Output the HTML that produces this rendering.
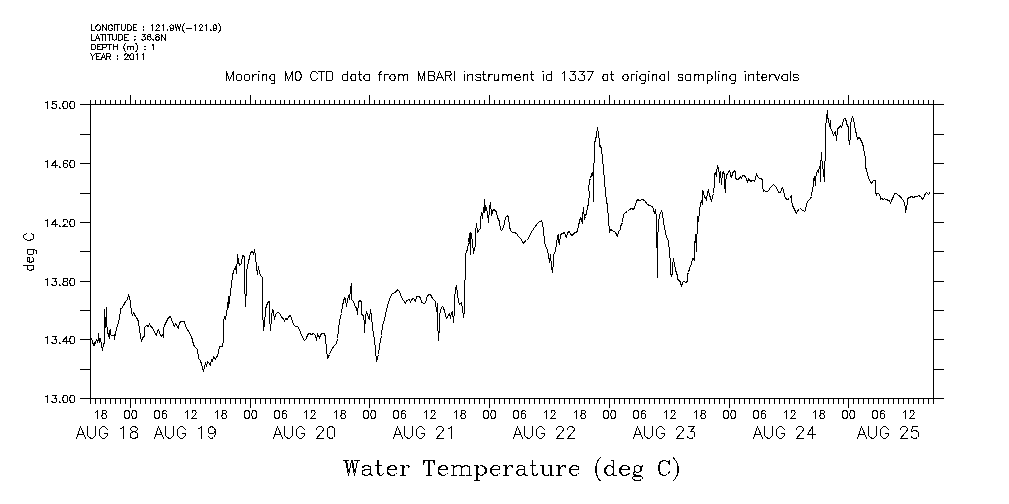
<!DOCTYPE html>
<html><head><meta charset="utf-8"><title>Water Temperature (deg C)</title>
<style>
html,body{margin:0;padding:0;background:#fff;font-family:"Liberation Sans",sans-serif;}
svg{display:block}
</style></head><body>
<svg width="1009" height="504" viewBox="0 0 1009 504" shape-rendering="crispEdges" role="img" aria-label="Water Temperature (deg C) time series plot">
<title>Water Temperature (deg C)</title>
<desc>Mooring M0 CTD data from MBARI instrument id 1337 at original sampling intervals. LONGITUDE : 121.9W(-121.9), LATITUDE : 36.8N, DEPTH (m) : 1, YEAR : 2011. Y axis deg C from 13.00 to 15.00; X axis AUG 18 to AUG 25.</desc>
<rect width="1009" height="504" fill="#fff"/>
<path fill="none" stroke="#000" stroke-width="1" stroke-linecap="butt" stroke-linejoin="miter" d="M90.5 104.5H933.5V398.5H90.5Z
M90.5 104.5L90.5 100
M90.5 398.5L90.5 404
M95.5 104.5L95.5 100
M95.5 398.5L95.5 404
M100.5 104.5L100.5 100
M100.5 398.5L100.5 404
M105.5 104.5L105.5 100
M105.5 398.5L105.5 404
M110.5 104.5L110.5 100
M110.5 398.5L110.5 404
M115.5 104.5L115.5 100
M115.5 398.5L115.5 404
M120.5 104.5L120.5 100
M120.5 398.5L120.5 404
M125.5 104.5L125.5 100
M125.5 398.5L125.5 404
M130.5 104.5L130.5 95
M130.5 398.5L130.5 408
M135.5 104.5L135.5 100
M135.5 398.5L135.5 404
M140.5 104.5L140.5 100
M140.5 398.5L140.5 404
M145.5 104.5L145.5 100
M145.5 398.5L145.5 404
M150.5 104.5L150.5 100
M150.5 398.5L150.5 404
M155.5 104.5L155.5 100
M155.5 398.5L155.5 404
M160.5 104.5L160.5 100
M160.5 398.5L160.5 404
M165.5 104.5L165.5 100
M165.5 398.5L165.5 404
M170.5 104.5L170.5 100
M170.5 398.5L170.5 404
M175.5 104.5L175.5 100
M175.5 398.5L175.5 404
M180.5 104.5L180.5 100
M180.5 398.5L180.5 404
M185.5 104.5L185.5 100
M185.5 398.5L185.5 404
M190.5 104.5L190.5 100
M190.5 398.5L190.5 404
M195.5 104.5L195.5 100
M195.5 398.5L195.5 404
M200.5 104.5L200.5 100
M200.5 398.5L200.5 404
M205.5 104.5L205.5 100
M205.5 398.5L205.5 404
M210.5 104.5L210.5 100
M210.5 398.5L210.5 404
M215.5 104.5L215.5 100
M215.5 398.5L215.5 404
M220.5 104.5L220.5 100
M220.5 398.5L220.5 404
M225.5 104.5L225.5 100
M225.5 398.5L225.5 404
M230.5 104.5L230.5 100
M230.5 398.5L230.5 404
M235.5 104.5L235.5 100
M235.5 398.5L235.5 404
M240.5 104.5L240.5 100
M240.5 398.5L240.5 404
M245.5 104.5L245.5 100
M245.5 398.5L245.5 404
M250.5 104.5L250.5 95
M250.5 398.5L250.5 408
M255.5 104.5L255.5 100
M255.5 398.5L255.5 404
M260.5 104.5L260.5 100
M260.5 398.5L260.5 404
M265.5 104.5L265.5 100
M265.5 398.5L265.5 404
M270.5 104.5L270.5 100
M270.5 398.5L270.5 404
M275.5 104.5L275.5 100
M275.5 398.5L275.5 404
M280.5 104.5L280.5 100
M280.5 398.5L280.5 404
M284.5 104.5L284.5 100
M284.5 398.5L284.5 404
M289.5 104.5L289.5 100
M289.5 398.5L289.5 404
M294.5 104.5L294.5 100
M294.5 398.5L294.5 404
M299.5 104.5L299.5 100
M299.5 398.5L299.5 404
M304.5 104.5L304.5 100
M304.5 398.5L304.5 404
M309.5 104.5L309.5 100
M309.5 398.5L309.5 404
M314.5 104.5L314.5 100
M314.5 398.5L314.5 404
M319.5 104.5L319.5 100
M319.5 398.5L319.5 404
M324.5 104.5L324.5 100
M324.5 398.5L324.5 404
M329.5 104.5L329.5 100
M329.5 398.5L329.5 404
M334.5 104.5L334.5 100
M334.5 398.5L334.5 404
M339.5 104.5L339.5 100
M339.5 398.5L339.5 404
M344.5 104.5L344.5 100
M344.5 398.5L344.5 404
M349.5 104.5L349.5 100
M349.5 398.5L349.5 404
M354.5 104.5L354.5 100
M354.5 398.5L354.5 404
M359.5 104.5L359.5 100
M359.5 398.5L359.5 404
M364.5 104.5L364.5 100
M364.5 398.5L364.5 404
M369.5 104.5L369.5 95
M369.5 398.5L369.5 408
M374.5 104.5L374.5 100
M374.5 398.5L374.5 404
M379.5 104.5L379.5 100
M379.5 398.5L379.5 404
M384.5 104.5L384.5 100
M384.5 398.5L384.5 404
M389.5 104.5L389.5 100
M389.5 398.5L389.5 404
M394.5 104.5L394.5 100
M394.5 398.5L394.5 404
M399.5 104.5L399.5 100
M399.5 398.5L399.5 404
M404.5 104.5L404.5 100
M404.5 398.5L404.5 404
M409.5 104.5L409.5 100
M409.5 398.5L409.5 404
M414.5 104.5L414.5 100
M414.5 398.5L414.5 404
M419.5 104.5L419.5 100
M419.5 398.5L419.5 404
M424.5 104.5L424.5 100
M424.5 398.5L424.5 404
M429.5 104.5L429.5 100
M429.5 398.5L429.5 404
M434.5 104.5L434.5 100
M434.5 398.5L434.5 404
M439.5 104.5L439.5 100
M439.5 398.5L439.5 404
M444.5 104.5L444.5 100
M444.5 398.5L444.5 404
M449.5 104.5L449.5 100
M449.5 398.5L449.5 404
M454.5 104.5L454.5 100
M454.5 398.5L454.5 404
M459.5 104.5L459.5 100
M459.5 398.5L459.5 404
M464.5 104.5L464.5 100
M464.5 398.5L464.5 404
M469.5 104.5L469.5 100
M469.5 398.5L469.5 404
M474.5 104.5L474.5 100
M474.5 398.5L474.5 404
M479.5 104.5L479.5 100
M479.5 398.5L479.5 404
M484.5 104.5L484.5 100
M484.5 398.5L484.5 404
M489.5 104.5L489.5 95
M489.5 398.5L489.5 408
M494.5 104.5L494.5 100
M494.5 398.5L494.5 404
M499.5 104.5L499.5 100
M499.5 398.5L499.5 404
M504.5 104.5L504.5 100
M504.5 398.5L504.5 404
M509.5 104.5L509.5 100
M509.5 398.5L509.5 404
M514.5 104.5L514.5 100
M514.5 398.5L514.5 404
M519.5 104.5L519.5 100
M519.5 398.5L519.5 404
M524.5 104.5L524.5 100
M524.5 398.5L524.5 404
M529.5 104.5L529.5 100
M529.5 398.5L529.5 404
M534.5 104.5L534.5 100
M534.5 398.5L534.5 404
M539.5 104.5L539.5 100
M539.5 398.5L539.5 404
M544.5 104.5L544.5 100
M544.5 398.5L544.5 404
M549.5 104.5L549.5 100
M549.5 398.5L549.5 404
M554.5 104.5L554.5 100
M554.5 398.5L554.5 404
M559.5 104.5L559.5 100
M559.5 398.5L559.5 404
M564.5 104.5L564.5 100
M564.5 398.5L564.5 404
M569.5 104.5L569.5 100
M569.5 398.5L569.5 404
M574.5 104.5L574.5 100
M574.5 398.5L574.5 404
M579.5 104.5L579.5 100
M579.5 398.5L579.5 404
M584.5 104.5L584.5 100
M584.5 398.5L584.5 404
M589.5 104.5L589.5 100
M589.5 398.5L589.5 404
M594.5 104.5L594.5 100
M594.5 398.5L594.5 404
M599.5 104.5L599.5 100
M599.5 398.5L599.5 404
M604.5 104.5L604.5 100
M604.5 398.5L604.5 404
M609.5 104.5L609.5 95
M609.5 398.5L609.5 408
M614.5 104.5L614.5 100
M614.5 398.5L614.5 404
M619.5 104.5L619.5 100
M619.5 398.5L619.5 404
M624.5 104.5L624.5 100
M624.5 398.5L624.5 404
M629.5 104.5L629.5 100
M629.5 398.5L629.5 404
M634.5 104.5L634.5 100
M634.5 398.5L634.5 404
M639.5 104.5L639.5 100
M639.5 398.5L639.5 404
M644.5 104.5L644.5 100
M644.5 398.5L644.5 404
M649.5 104.5L649.5 100
M649.5 398.5L649.5 404
M654.5 104.5L654.5 100
M654.5 398.5L654.5 404
M659.5 104.5L659.5 100
M659.5 398.5L659.5 404
M664.5 104.5L664.5 100
M664.5 398.5L664.5 404
M669.5 104.5L669.5 100
M669.5 398.5L669.5 404
M674.5 104.5L674.5 100
M674.5 398.5L674.5 404
M679.5 104.5L679.5 100
M679.5 398.5L679.5 404
M684.5 104.5L684.5 100
M684.5 398.5L684.5 404
M689.5 104.5L689.5 100
M689.5 398.5L689.5 404
M694.5 104.5L694.5 100
M694.5 398.5L694.5 404
M699.5 104.5L699.5 100
M699.5 398.5L699.5 404
M704.5 104.5L704.5 100
M704.5 398.5L704.5 404
M709.5 104.5L709.5 100
M709.5 398.5L709.5 404
M714.5 104.5L714.5 100
M714.5 398.5L714.5 404
M719.5 104.5L719.5 100
M719.5 398.5L719.5 404
M724.5 104.5L724.5 100
M724.5 398.5L724.5 404
M729.5 104.5L729.5 95
M729.5 398.5L729.5 408
M734.5 104.5L734.5 100
M734.5 398.5L734.5 404
M739.5 104.5L739.5 100
M739.5 398.5L739.5 404
M744.5 104.5L744.5 100
M744.5 398.5L744.5 404
M749.5 104.5L749.5 100
M749.5 398.5L749.5 404
M754.5 104.5L754.5 100
M754.5 398.5L754.5 404
M759.5 104.5L759.5 100
M759.5 398.5L759.5 404
M764.5 104.5L764.5 100
M764.5 398.5L764.5 404
M769.5 104.5L769.5 100
M769.5 398.5L769.5 404
M774.5 104.5L774.5 100
M774.5 398.5L774.5 404
M779.5 104.5L779.5 100
M779.5 398.5L779.5 404
M784.5 104.5L784.5 100
M784.5 398.5L784.5 404
M789.5 104.5L789.5 100
M789.5 398.5L789.5 404
M794.5 104.5L794.5 100
M794.5 398.5L794.5 404
M799.5 104.5L799.5 100
M799.5 398.5L799.5 404
M804.5 104.5L804.5 100
M804.5 398.5L804.5 404
M809.5 104.5L809.5 100
M809.5 398.5L809.5 404
M813.5 104.5L813.5 100
M813.5 398.5L813.5 404
M818.5 104.5L818.5 100
M818.5 398.5L818.5 404
M823.5 104.5L823.5 100
M823.5 398.5L823.5 404
M828.5 104.5L828.5 100
M828.5 398.5L828.5 404
M833.5 104.5L833.5 100
M833.5 398.5L833.5 404
M838.5 104.5L838.5 100
M838.5 398.5L838.5 404
M843.5 104.5L843.5 100
M843.5 398.5L843.5 404
M848.5 104.5L848.5 95
M848.5 398.5L848.5 408
M853.5 104.5L853.5 100
M853.5 398.5L853.5 404
M858.5 104.5L858.5 100
M858.5 398.5L858.5 404
M863.5 104.5L863.5 100
M863.5 398.5L863.5 404
M868.5 104.5L868.5 100
M868.5 398.5L868.5 404
M873.5 104.5L873.5 100
M873.5 398.5L873.5 404
M878.5 104.5L878.5 100
M878.5 398.5L878.5 404
M883.5 104.5L883.5 100
M883.5 398.5L883.5 404
M888.5 104.5L888.5 100
M888.5 398.5L888.5 404
M893.5 104.5L893.5 100
M893.5 398.5L893.5 404
M898.5 104.5L898.5 100
M898.5 398.5L898.5 404
M903.5 104.5L903.5 100
M903.5 398.5L903.5 404
M908.5 104.5L908.5 100
M908.5 398.5L908.5 404
M913.5 104.5L913.5 100
M913.5 398.5L913.5 404
M918.5 104.5L918.5 100
M918.5 398.5L918.5 404
M923.5 104.5L923.5 100
M923.5 398.5L923.5 404
M928.5 104.5L928.5 100
M928.5 398.5L928.5 404
M933.5 104.5L933.5 100
M933.5 398.5L933.5 404
M90.5 104.5L80 104.5
M933.5 104.5L944 104.5
M90.5 134.5L80 134.5
M933.5 134.5L944 134.5
M90.5 163.5L80 163.5
M933.5 163.5L944 163.5
M90.5 193.5L80 193.5
M933.5 193.5L944 193.5
M90.5 222.5L80 222.5
M933.5 222.5L944 222.5
M90.5 251.5L80 251.5
M933.5 251.5L944 251.5
M90.5 281.5L80 281.5
M933.5 281.5L944 281.5
M90.5 310.5L80 310.5
M933.5 310.5L944 310.5
M90.5 339.5L80 339.5
M933.5 339.5L944 339.5
M90.5 369.5L80 369.5
M933.5 369.5L944 369.5
M90.5 398.5L80 398.5
M933.5 398.5L944 398.5"/>
<path fill="none" stroke="#000" stroke-width="1" stroke-linecap="round" stroke-linejoin="round" d="M45.5 102.5 46.5 102.5 47.5 101.5 47.5 108.5M51.5 107.5 52.5 107.5 52.5 108.5 53.5 108.5 54.5 108.5 55.5 108.5 56.5 107.5 56.5 106.5 56.5 105.5 56.5 104.5 55.5 104.5 54.5 103.5 53.5 103.5 52.5 104.5 52.5 101.5 56.5 101.5M59.5 108.5 59.5 107.5 60.5 108.5 59.5 108.5M62.5 104.5 62.5 105.5 63.5 107.5 63.5 108.5 64.5 108.5 65.5 108.5 66.5 108.5 67.5 107.5 67.5 105.5 67.5 104.5 67.5 102.5 66.5 101.5 65.5 101.5 64.5 101.5 63.5 101.5 63.5 102.5 62.5 104.5M69.5 104.5 69.5 105.5 70.5 107.5 70.5 108.5 72.5 108.5 73.5 108.5 74.5 107.5 74.5 105.5 74.5 104.5 74.5 102.5 73.5 101.5 72.5 101.5 70.5 101.5 70.5 102.5 69.5 104.5
M45.5 161.5 46.5 161.5 47.5 160.5 47.5 167.5M55.5 167.5 55.5 160.5 51.5 165.5 57.5 165.5M59.5 167.5 59.5 166.5 60.5 167.5 59.5 167.5M63.5 165.5 63.5 163.5 63.5 161.5 64.5 160.5 65.5 160.5 67.5 160.5 67.5 161.5M63.5 165.5 63.5 164.5 64.5 163.5 65.5 163.5 66.5 163.5 67.5 164.5 67.5 165.5 67.5 166.5 66.5 167.5 65.5 167.5 64.5 167.5 63.5 166.5 63.5 165.5M69.5 163.5 69.5 164.5 70.5 166.5 70.5 167.5 72.5 167.5 73.5 167.5 74.5 166.5 74.5 164.5 74.5 163.5 74.5 161.5 73.5 160.5 72.5 160.5 70.5 160.5 70.5 161.5 69.5 163.5
M45.5 220.5 46.5 220.5 47.5 219.5 47.5 226.5M55.5 226.5 55.5 219.5 51.5 224.5 57.5 224.5M59.5 226.5 59.5 225.5 60.5 226.5 59.5 226.5M63.5 221.5 63.5 220.5 63.5 219.5 64.5 219.5 65.5 219.5 66.5 219.5 67.5 220.5 67.5 221.5 67.5 222.5 66.5 223.5 62.5 226.5 67.5 226.5M69.5 222.5 69.5 223.5 70.5 225.5 70.5 226.5 72.5 226.5 73.5 226.5 74.5 225.5 74.5 223.5 74.5 222.5 74.5 220.5 73.5 219.5 72.5 219.5 70.5 219.5 70.5 220.5 69.5 222.5
M45.5 279.5 46.5 279.5 47.5 278.5 47.5 285.5M51.5 284.5 52.5 284.5 52.5 285.5 53.5 285.5 54.5 285.5 55.5 285.5 56.5 284.5 56.5 283.5 56.5 282.5 56.5 281.5 55.5 281.5 54.5 281.5 56.5 278.5 52.5 278.5M59.5 285.5 59.5 284.5 60.5 285.5 59.5 285.5M62.5 283.5 62.5 284.5 63.5 284.5 63.5 285.5 64.5 285.5 65.5 285.5 67.5 285.5 67.5 284.5 67.5 283.5 67.5 282.5 66.5 281.5 65.5 281.5 64.5 281.5 63.5 280.5 63.5 279.5 63.5 278.5 64.5 278.5 65.5 278.5 67.5 278.5 67.5 279.5 67.5 280.5 66.5 281.5 64.5 281.5 63.5 281.5 63.5 282.5 62.5 283.5M69.5 281.5 69.5 282.5 70.5 284.5 70.5 285.5 72.5 285.5 73.5 285.5 74.5 284.5 74.5 282.5 74.5 281.5 74.5 279.5 73.5 278.5 72.5 278.5 70.5 278.5 70.5 279.5 69.5 281.5
M45.5 337.5 46.5 337.5 47.5 336.5 47.5 343.5M51.5 342.5 52.5 342.5 52.5 343.5 53.5 343.5 54.5 343.5 55.5 343.5 56.5 342.5 56.5 341.5 56.5 340.5 56.5 339.5 55.5 339.5 54.5 339.5 56.5 336.5 52.5 336.5M59.5 343.5 59.5 342.5 60.5 343.5 59.5 343.5M66.5 343.5 66.5 336.5 62.5 341.5 68.5 341.5M69.5 339.5 69.5 340.5 70.5 342.5 70.5 343.5 72.5 343.5 73.5 343.5 74.5 342.5 74.5 340.5 74.5 339.5 74.5 337.5 73.5 336.5 72.5 336.5 70.5 336.5 70.5 337.5 69.5 339.5
M45.5 396.5 46.5 396.5 47.5 395.5 47.5 402.5M51.5 401.5 52.5 401.5 52.5 402.5 53.5 402.5 54.5 402.5 55.5 402.5 56.5 401.5 56.5 400.5 56.5 399.5 56.5 398.5 55.5 398.5 54.5 398.5 56.5 395.5 52.5 395.5M59.5 402.5 59.5 401.5 60.5 402.5 59.5 402.5M62.5 398.5 62.5 399.5 63.5 401.5 63.5 402.5 64.5 402.5 65.5 402.5 66.5 402.5 67.5 401.5 67.5 399.5 67.5 398.5 67.5 396.5 66.5 395.5 65.5 395.5 64.5 395.5 63.5 395.5 63.5 396.5 62.5 398.5M69.5 398.5 69.5 399.5 70.5 401.5 70.5 402.5 72.5 402.5 73.5 402.5 74.5 401.5 74.5 399.5 74.5 398.5 74.5 396.5 73.5 395.5 72.5 395.5 70.5 395.5 70.5 396.5 69.5 398.5
M95.5 412.5 96.5 411.5 97.5 410.5 97.5 418.5M101.5 415.5 101.5 416.5 102.5 417.5 102.5 418.5 103.5 418.5 104.5 418.5 105.5 418.5 106.5 417.5 106.5 416.5 106.5 415.5 105.5 414.5 104.5 413.5 103.5 413.5 102.5 413.5 102.5 412.5 102.5 411.5 102.5 410.5 103.5 410.5 104.5 410.5 105.5 410.5 106.5 411.5 106.5 412.5 105.5 413.5 103.5 413.5 102.5 414.5 102.5 415.5 101.5 415.5
M124.5 413.5 124.5 415.5 124.5 416.5 125.5 418.5 126.5 418.5 127.5 418.5 128.5 418.5 129.5 416.5 129.5 415.5 129.5 413.5 129.5 412.5 128.5 410.5 127.5 410.5 126.5 410.5 125.5 410.5 124.5 412.5 124.5 413.5M131.5 413.5 131.5 415.5 132.5 416.5 132.5 418.5 133.5 418.5 134.5 418.5 135.5 418.5 136.5 416.5 136.5 415.5 136.5 413.5 136.5 412.5 135.5 410.5 134.5 410.5 133.5 410.5 132.5 410.5 132.5 412.5 131.5 413.5
M154.5 413.5 154.5 415.5 154.5 416.5 155.5 418.5 156.5 418.5 157.5 418.5 158.5 418.5 159.5 416.5 159.5 415.5 159.5 413.5 159.5 412.5 158.5 410.5 157.5 410.5 156.5 410.5 155.5 410.5 154.5 412.5 154.5 413.5M162.5 415.5 162.5 413.5 162.5 412.5 163.5 410.5 164.5 410.5 165.5 410.5 166.5 411.5M162.5 415.5 162.5 414.5 163.5 413.5 164.5 413.5 165.5 413.5 166.5 414.5 166.5 415.5 166.5 416.5 166.5 417.5 165.5 418.5 164.5 418.5 163.5 418.5 162.5 417.5 162.5 415.5
M185.5 412.5 186.5 411.5 187.5 410.5 187.5 418.5M192.5 412.5 192.5 411.5 192.5 410.5 193.5 410.5 194.5 410.5 195.5 410.5 195.5 411.5 196.5 412.5 195.5 413.5 195.5 414.5 191.5 418.5 196.5 418.5
M215.5 412.5 216.5 411.5 217.5 410.5 217.5 418.5M221.5 415.5 221.5 416.5 222.5 417.5 222.5 418.5 223.5 418.5 224.5 418.5 225.5 418.5 226.5 417.5 226.5 416.5 226.5 415.5 225.5 414.5 224.5 413.5 223.5 413.5 222.5 413.5 222.5 412.5 222.5 411.5 222.5 410.5 223.5 410.5 224.5 410.5 225.5 410.5 226.5 411.5 226.5 412.5 225.5 413.5 223.5 413.5 222.5 414.5 222.5 415.5 221.5 415.5
M244.5 413.5 244.5 415.5 244.5 416.5 245.5 418.5 246.5 418.5 247.5 418.5 248.5 418.5 249.5 416.5 249.5 415.5 249.5 413.5 249.5 412.5 248.5 410.5 247.5 410.5 246.5 410.5 245.5 410.5 244.5 412.5 244.5 413.5M251.5 413.5 251.5 415.5 252.5 416.5 252.5 418.5 253.5 418.5 254.5 418.5 255.5 418.5 256.5 416.5 256.5 415.5 256.5 413.5 256.5 412.5 255.5 410.5 254.5 410.5 253.5 410.5 252.5 410.5 252.5 412.5 251.5 413.5
M274.5 413.5 274.5 415.5 274.5 416.5 275.5 418.5 276.5 418.5 277.5 418.5 278.5 418.5 279.5 416.5 279.5 415.5 279.5 413.5 279.5 412.5 278.5 410.5 277.5 410.5 276.5 410.5 275.5 410.5 274.5 412.5 274.5 413.5M282.5 415.5 282.5 413.5 282.5 412.5 283.5 410.5 284.5 410.5 285.5 410.5 286.5 411.5M282.5 415.5 282.5 414.5 283.5 413.5 284.5 413.5 285.5 413.5 286.5 414.5 286.5 415.5 286.5 416.5 286.5 417.5 285.5 418.5 284.5 418.5 283.5 418.5 282.5 417.5 282.5 415.5
M304.5 412.5 305.5 411.5 306.5 410.5 306.5 418.5M311.5 412.5 311.5 411.5 311.5 410.5 312.5 410.5 313.5 410.5 314.5 410.5 314.5 411.5 315.5 412.5 314.5 413.5 314.5 414.5 310.5 418.5 315.5 418.5
M334.5 412.5 335.5 411.5 336.5 410.5 336.5 418.5M340.5 415.5 340.5 416.5 341.5 417.5 341.5 418.5 342.5 418.5 343.5 418.5 344.5 418.5 345.5 417.5 345.5 416.5 345.5 415.5 344.5 414.5 343.5 413.5 342.5 413.5 341.5 413.5 341.5 412.5 341.5 411.5 341.5 410.5 342.5 410.5 343.5 410.5 344.5 410.5 345.5 411.5 345.5 412.5 344.5 413.5 342.5 413.5 341.5 414.5 341.5 415.5 340.5 415.5
M363.5 413.5 363.5 415.5 363.5 416.5 364.5 418.5 365.5 418.5 366.5 418.5 367.5 418.5 368.5 416.5 368.5 415.5 368.5 413.5 368.5 412.5 367.5 410.5 366.5 410.5 365.5 410.5 364.5 410.5 363.5 412.5 363.5 413.5M370.5 413.5 370.5 415.5 371.5 416.5 371.5 418.5 372.5 418.5 373.5 418.5 374.5 418.5 375.5 416.5 375.5 415.5 375.5 413.5 375.5 412.5 374.5 410.5 373.5 410.5 372.5 410.5 371.5 410.5 371.5 412.5 370.5 413.5
M393.5 413.5 393.5 415.5 393.5 416.5 394.5 418.5 395.5 418.5 396.5 418.5 397.5 418.5 398.5 416.5 398.5 415.5 398.5 413.5 398.5 412.5 397.5 410.5 396.5 410.5 395.5 410.5 394.5 410.5 393.5 412.5 393.5 413.5M401.5 415.5 401.5 413.5 401.5 412.5 402.5 410.5 403.5 410.5 404.5 410.5 405.5 411.5M401.5 415.5 401.5 414.5 402.5 413.5 403.5 413.5 404.5 413.5 405.5 414.5 405.5 415.5 405.5 416.5 405.5 417.5 404.5 418.5 403.5 418.5 402.5 418.5 401.5 417.5 401.5 415.5
M424.5 412.5 425.5 411.5 426.5 410.5 426.5 418.5M431.5 412.5 431.5 411.5 431.5 410.5 432.5 410.5 433.5 410.5 434.5 410.5 434.5 411.5 435.5 412.5 434.5 413.5 434.5 414.5 430.5 418.5 435.5 418.5
M454.5 412.5 455.5 411.5 456.5 410.5 456.5 418.5M460.5 415.5 460.5 416.5 461.5 417.5 461.5 418.5 462.5 418.5 463.5 418.5 464.5 418.5 465.5 417.5 465.5 416.5 465.5 415.5 464.5 414.5 463.5 413.5 462.5 413.5 461.5 413.5 461.5 412.5 461.5 411.5 461.5 410.5 462.5 410.5 463.5 410.5 464.5 410.5 465.5 411.5 465.5 412.5 464.5 413.5 462.5 413.5 461.5 414.5 461.5 415.5 460.5 415.5
M483.5 413.5 483.5 415.5 483.5 416.5 484.5 418.5 485.5 418.5 486.5 418.5 487.5 418.5 488.5 416.5 488.5 415.5 488.5 413.5 488.5 412.5 487.5 410.5 486.5 410.5 485.5 410.5 484.5 410.5 483.5 412.5 483.5 413.5M490.5 413.5 490.5 415.5 491.5 416.5 491.5 418.5 492.5 418.5 493.5 418.5 494.5 418.5 495.5 416.5 495.5 415.5 495.5 413.5 495.5 412.5 494.5 410.5 493.5 410.5 492.5 410.5 491.5 410.5 491.5 412.5 490.5 413.5
M513.5 413.5 513.5 415.5 513.5 416.5 514.5 418.5 515.5 418.5 516.5 418.5 517.5 418.5 518.5 416.5 518.5 415.5 518.5 413.5 518.5 412.5 517.5 410.5 516.5 410.5 515.5 410.5 514.5 410.5 513.5 412.5 513.5 413.5M521.5 415.5 521.5 413.5 521.5 412.5 522.5 410.5 523.5 410.5 524.5 410.5 525.5 411.5M521.5 415.5 521.5 414.5 522.5 413.5 523.5 413.5 524.5 413.5 525.5 414.5 525.5 415.5 525.5 416.5 525.5 417.5 524.5 418.5 523.5 418.5 522.5 418.5 521.5 417.5 521.5 415.5
M544.5 412.5 545.5 411.5 546.5 410.5 546.5 418.5M551.5 412.5 551.5 411.5 551.5 410.5 552.5 410.5 553.5 410.5 554.5 410.5 554.5 411.5 555.5 412.5 554.5 413.5 554.5 414.5 550.5 418.5 555.5 418.5
M574.5 412.5 575.5 411.5 576.5 410.5 576.5 418.5M580.5 415.5 580.5 416.5 581.5 417.5 581.5 418.5 582.5 418.5 583.5 418.5 584.5 418.5 585.5 417.5 585.5 416.5 585.5 415.5 584.5 414.5 583.5 413.5 582.5 413.5 581.5 413.5 581.5 412.5 581.5 411.5 581.5 410.5 582.5 410.5 583.5 410.5 584.5 410.5 585.5 411.5 585.5 412.5 584.5 413.5 582.5 413.5 581.5 414.5 581.5 415.5 580.5 415.5
M603.5 413.5 603.5 415.5 603.5 416.5 604.5 418.5 605.5 418.5 606.5 418.5 607.5 418.5 608.5 416.5 608.5 415.5 608.5 413.5 608.5 412.5 607.5 410.5 606.5 410.5 605.5 410.5 604.5 410.5 603.5 412.5 603.5 413.5M610.5 413.5 610.5 415.5 611.5 416.5 611.5 418.5 612.5 418.5 613.5 418.5 614.5 418.5 615.5 416.5 615.5 415.5 615.5 413.5 615.5 412.5 614.5 410.5 613.5 410.5 612.5 410.5 611.5 410.5 611.5 412.5 610.5 413.5
M633.5 413.5 633.5 415.5 633.5 416.5 634.5 418.5 635.5 418.5 636.5 418.5 637.5 418.5 638.5 416.5 638.5 415.5 638.5 413.5 638.5 412.5 637.5 410.5 636.5 410.5 635.5 410.5 634.5 410.5 633.5 412.5 633.5 413.5M641.5 415.5 641.5 413.5 641.5 412.5 642.5 410.5 643.5 410.5 644.5 410.5 645.5 411.5M641.5 415.5 641.5 414.5 642.5 413.5 643.5 413.5 644.5 413.5 645.5 414.5 645.5 415.5 645.5 416.5 645.5 417.5 644.5 418.5 643.5 418.5 642.5 418.5 641.5 417.5 641.5 415.5
M664.5 412.5 665.5 411.5 666.5 410.5 666.5 418.5M671.5 412.5 671.5 411.5 671.5 410.5 672.5 410.5 673.5 410.5 674.5 410.5 674.5 411.5 675.5 412.5 674.5 413.5 674.5 414.5 670.5 418.5 675.5 418.5
M694.5 412.5 695.5 411.5 696.5 410.5 696.5 418.5M700.5 415.5 700.5 416.5 701.5 417.5 701.5 418.5 702.5 418.5 703.5 418.5 704.5 418.5 705.5 417.5 705.5 416.5 705.5 415.5 704.5 414.5 703.5 413.5 702.5 413.5 701.5 413.5 701.5 412.5 701.5 411.5 701.5 410.5 702.5 410.5 703.5 410.5 704.5 410.5 705.5 411.5 705.5 412.5 704.5 413.5 702.5 413.5 701.5 414.5 701.5 415.5 700.5 415.5
M723.5 413.5 723.5 415.5 723.5 416.5 724.5 418.5 725.5 418.5 726.5 418.5 727.5 418.5 728.5 416.5 728.5 415.5 728.5 413.5 728.5 412.5 727.5 410.5 726.5 410.5 725.5 410.5 724.5 410.5 723.5 412.5 723.5 413.5M730.5 413.5 730.5 415.5 731.5 416.5 731.5 418.5 732.5 418.5 733.5 418.5 734.5 418.5 735.5 416.5 735.5 415.5 735.5 413.5 735.5 412.5 734.5 410.5 733.5 410.5 732.5 410.5 731.5 410.5 731.5 412.5 730.5 413.5
M753.5 413.5 753.5 415.5 753.5 416.5 754.5 418.5 755.5 418.5 756.5 418.5 757.5 418.5 758.5 416.5 758.5 415.5 758.5 413.5 758.5 412.5 757.5 410.5 756.5 410.5 755.5 410.5 754.5 410.5 753.5 412.5 753.5 413.5M761.5 415.5 761.5 413.5 761.5 412.5 762.5 410.5 763.5 410.5 764.5 410.5 765.5 411.5M761.5 415.5 761.5 414.5 762.5 413.5 763.5 413.5 764.5 413.5 765.5 414.5 765.5 415.5 765.5 416.5 765.5 417.5 764.5 418.5 763.5 418.5 762.5 418.5 761.5 417.5 761.5 415.5
M784.5 412.5 785.5 411.5 786.5 410.5 786.5 418.5M791.5 412.5 791.5 411.5 791.5 410.5 792.5 410.5 793.5 410.5 794.5 410.5 794.5 411.5 795.5 412.5 794.5 413.5 794.5 414.5 790.5 418.5 795.5 418.5
M813.5 412.5 814.5 411.5 815.5 410.5 815.5 418.5M819.5 415.5 819.5 416.5 820.5 417.5 820.5 418.5 821.5 418.5 822.5 418.5 823.5 418.5 824.5 417.5 824.5 416.5 824.5 415.5 823.5 414.5 822.5 413.5 821.5 413.5 820.5 413.5 820.5 412.5 820.5 411.5 820.5 410.5 821.5 410.5 822.5 410.5 823.5 410.5 824.5 411.5 824.5 412.5 823.5 413.5 821.5 413.5 820.5 414.5 820.5 415.5 819.5 415.5
M842.5 413.5 842.5 415.5 842.5 416.5 843.5 418.5 844.5 418.5 845.5 418.5 846.5 418.5 847.5 416.5 847.5 415.5 847.5 413.5 847.5 412.5 846.5 410.5 845.5 410.5 844.5 410.5 843.5 410.5 842.5 412.5 842.5 413.5M849.5 413.5 849.5 415.5 850.5 416.5 850.5 418.5 851.5 418.5 852.5 418.5 853.5 418.5 854.5 416.5 854.5 415.5 854.5 413.5 854.5 412.5 853.5 410.5 852.5 410.5 851.5 410.5 850.5 410.5 850.5 412.5 849.5 413.5
M872.5 413.5 872.5 415.5 872.5 416.5 873.5 418.5 874.5 418.5 875.5 418.5 876.5 418.5 877.5 416.5 877.5 415.5 877.5 413.5 877.5 412.5 876.5 410.5 875.5 410.5 874.5 410.5 873.5 410.5 872.5 412.5 872.5 413.5M880.5 415.5 880.5 413.5 880.5 412.5 881.5 410.5 882.5 410.5 883.5 410.5 884.5 411.5M880.5 415.5 880.5 414.5 881.5 413.5 882.5 413.5 883.5 413.5 884.5 414.5 884.5 415.5 884.5 416.5 884.5 417.5 883.5 418.5 882.5 418.5 881.5 418.5 880.5 417.5 880.5 415.5
M903.5 412.5 904.5 411.5 905.5 410.5 905.5 418.5M910.5 412.5 910.5 411.5 910.5 410.5 911.5 410.5 912.5 410.5 913.5 410.5 913.5 411.5 914.5 412.5 913.5 413.5 913.5 414.5 909.5 418.5 914.5 418.5
M76.5 438.5 80.5 426.5 85.5 438.5M78.5 434.5 83.5 434.5M87.5 426.5 87.5 435.5 88.5 436.5 89.5 437.5 91.5 438.5 92.5 438.5 93.5 437.5 94.5 436.5 95.5 435.5 95.5 426.5M104.5 433.5 107.5 433.5 107.5 435.5 106.5 436.5 105.5 437.5 104.5 438.5 102.5 438.5 101.5 437.5 100.5 436.5 99.5 435.5 99.5 433.5 99.5 431.5 99.5 429.5 100.5 428.5 101.5 427.5 102.5 426.5 104.5 426.5 105.5 427.5 106.5 428.5 107.5 429.5M120.5 428.5 121.5 428.5 123.5 426.5 123.5 438.5M130.5 434.5 130.5 436.5 130.5 437.5 131.5 437.5 132.5 438.5 134.5 438.5 136.5 437.5 137.5 437.5 137.5 436.5 137.5 434.5 137.5 433.5 136.5 432.5 134.5 431.5 132.5 431.5 131.5 430.5 130.5 429.5 130.5 428.5 131.5 427.5 132.5 426.5 134.5 426.5 136.5 427.5 137.5 428.5 137.5 429.5 136.5 430.5 135.5 431.5 133.5 431.5 131.5 432.5 130.5 433.5 130.5 434.5
M154.5 438.5 158.5 426.5 163.5 438.5M156.5 434.5 161.5 434.5M165.5 426.5 165.5 435.5 166.5 436.5 167.5 437.5 169.5 438.5 170.5 438.5 171.5 437.5 172.5 436.5 173.5 435.5 173.5 426.5M182.5 433.5 185.5 433.5 185.5 435.5 184.5 436.5 183.5 437.5 182.5 438.5 180.5 438.5 179.5 437.5 178.5 436.5 177.5 435.5 177.5 433.5 177.5 431.5 177.5 429.5 178.5 428.5 179.5 427.5 180.5 426.5 182.5 426.5 183.5 427.5 184.5 428.5 185.5 429.5M198.5 428.5 199.5 428.5 201.5 426.5 201.5 438.5M208.5 436.5 209.5 437.5 210.5 438.5 211.5 438.5 213.5 437.5 214.5 436.5 215.5 433.5 215.5 430.5 214.5 428.5 213.5 427.5 211.5 426.5 209.5 427.5 208.5 428.5 208.5 429.5 208.5 430.5 208.5 432.5 209.5 433.5 211.5 433.5 213.5 433.5 214.5 432.5 215.5 430.5
M273.5 438.5 277.5 426.5 282.5 438.5M275.5 434.5 280.5 434.5M284.5 426.5 284.5 435.5 285.5 436.5 286.5 437.5 288.5 438.5 289.5 438.5 290.5 437.5 291.5 436.5 292.5 435.5 292.5 426.5M301.5 433.5 304.5 433.5 304.5 435.5 303.5 436.5 302.5 437.5 301.5 438.5 299.5 438.5 298.5 437.5 297.5 436.5 296.5 435.5 296.5 433.5 296.5 431.5 296.5 429.5 297.5 428.5 298.5 427.5 299.5 426.5 301.5 426.5 302.5 427.5 303.5 428.5 304.5 429.5M316.5 429.5 316.5 428.5 317.5 427.5 318.5 426.5 321.5 426.5 322.5 427.5 323.5 428.5 323.5 429.5 322.5 431.5 321.5 432.5 316.5 438.5 323.5 438.5M327.5 431.5 327.5 433.5 327.5 436.5 328.5 437.5 330.5 438.5 331.5 438.5 333.5 437.5 334.5 436.5 334.5 433.5 334.5 431.5 334.5 428.5 333.5 427.5 331.5 426.5 330.5 426.5 328.5 427.5 327.5 428.5 327.5 431.5
M393.5 438.5 397.5 426.5 402.5 438.5M395.5 434.5 400.5 434.5M404.5 426.5 404.5 435.5 405.5 436.5 406.5 437.5 408.5 438.5 409.5 438.5 410.5 437.5 411.5 436.5 412.5 435.5 412.5 426.5M421.5 433.5 424.5 433.5 424.5 435.5 423.5 436.5 422.5 437.5 421.5 438.5 419.5 438.5 418.5 437.5 417.5 436.5 416.5 435.5 416.5 433.5 416.5 431.5 416.5 429.5 417.5 428.5 418.5 427.5 419.5 426.5 421.5 426.5 422.5 427.5 423.5 428.5 424.5 429.5M436.5 429.5 436.5 428.5 437.5 427.5 438.5 426.5 441.5 426.5 442.5 427.5 443.5 428.5 443.5 429.5 442.5 431.5 441.5 432.5 436.5 438.5 443.5 438.5M448.5 428.5 449.5 428.5 451.5 426.5 451.5 438.5
M513.5 438.5 517.5 426.5 522.5 438.5M515.5 434.5 520.5 434.5M524.5 426.5 524.5 435.5 525.5 436.5 526.5 437.5 528.5 438.5 529.5 438.5 530.5 437.5 531.5 436.5 532.5 435.5 532.5 426.5M541.5 433.5 544.5 433.5 544.5 435.5 543.5 436.5 542.5 437.5 541.5 438.5 539.5 438.5 538.5 437.5 537.5 436.5 536.5 435.5 536.5 433.5 536.5 431.5 536.5 429.5 537.5 428.5 538.5 427.5 539.5 426.5 541.5 426.5 542.5 427.5 543.5 428.5 544.5 429.5M556.5 429.5 556.5 428.5 557.5 427.5 558.5 426.5 561.5 426.5 562.5 427.5 563.5 428.5 563.5 429.5 562.5 431.5 561.5 432.5 556.5 438.5 563.5 438.5M567.5 429.5 567.5 428.5 568.5 427.5 569.5 426.5 571.5 426.5 573.5 427.5 574.5 428.5 574.5 429.5 573.5 431.5 572.5 432.5 567.5 438.5 574.5 438.5
M633.5 438.5 637.5 426.5 642.5 438.5M635.5 434.5 640.5 434.5M644.5 426.5 644.5 435.5 645.5 436.5 646.5 437.5 648.5 438.5 649.5 438.5 650.5 437.5 651.5 436.5 652.5 435.5 652.5 426.5M661.5 433.5 664.5 433.5 664.5 435.5 663.5 436.5 662.5 437.5 661.5 438.5 659.5 438.5 658.5 437.5 657.5 436.5 656.5 435.5 656.5 433.5 656.5 431.5 656.5 429.5 657.5 428.5 658.5 427.5 659.5 426.5 661.5 426.5 662.5 427.5 663.5 428.5 664.5 429.5M676.5 429.5 676.5 428.5 677.5 427.5 678.5 426.5 681.5 426.5 682.5 427.5 683.5 428.5 683.5 429.5 682.5 431.5 681.5 432.5 676.5 438.5 683.5 438.5M687.5 436.5 687.5 437.5 688.5 437.5 689.5 438.5 691.5 438.5 693.5 437.5 694.5 436.5 694.5 435.5 694.5 433.5 694.5 432.5 693.5 431.5 692.5 431.5 690.5 431.5 694.5 426.5 688.5 426.5
M753.5 438.5 757.5 426.5 762.5 438.5M755.5 434.5 760.5 434.5M764.5 426.5 764.5 435.5 765.5 436.5 766.5 437.5 768.5 438.5 769.5 438.5 770.5 437.5 771.5 436.5 772.5 435.5 772.5 426.5M781.5 433.5 784.5 433.5 784.5 435.5 783.5 436.5 782.5 437.5 781.5 438.5 779.5 438.5 778.5 437.5 777.5 436.5 776.5 435.5 776.5 433.5 776.5 431.5 776.5 429.5 777.5 428.5 778.5 427.5 779.5 426.5 781.5 426.5 782.5 427.5 783.5 428.5 784.5 429.5M796.5 429.5 796.5 428.5 797.5 427.5 798.5 426.5 801.5 426.5 802.5 427.5 803.5 428.5 803.5 429.5 802.5 431.5 801.5 432.5 796.5 438.5 803.5 438.5M812.5 438.5 812.5 426.5 807.5 434.5 815.5 434.5
M857.5 438.5 861.5 426.5 866.5 438.5M859.5 434.5 864.5 434.5M868.5 426.5 868.5 435.5 869.5 436.5 870.5 437.5 872.5 438.5 873.5 438.5 874.5 437.5 875.5 436.5 876.5 435.5 876.5 426.5M885.5 433.5 888.5 433.5 888.5 435.5 887.5 436.5 886.5 437.5 885.5 438.5 883.5 438.5 882.5 437.5 881.5 436.5 880.5 435.5 880.5 433.5 880.5 431.5 880.5 429.5 881.5 428.5 882.5 427.5 883.5 426.5 885.5 426.5 886.5 427.5 887.5 428.5 888.5 429.5M900.5 429.5 900.5 428.5 901.5 427.5 902.5 426.5 905.5 426.5 906.5 427.5 907.5 428.5 907.5 429.5 906.5 431.5 905.5 432.5 900.5 438.5 907.5 438.5M911.5 436.5 911.5 437.5 912.5 437.5 913.5 438.5 915.5 438.5 917.5 437.5 918.5 436.5 918.5 435.5 918.5 433.5 918.5 432.5 917.5 431.5 915.5 430.5 913.5 430.5 912.5 431.5 911.5 431.5 912.5 426.5 917.5 426.5
M91.5 24.5 91.5 30.5 94.5 30.5M95.5 26.5 95.5 28.5 96.5 29.5 97.5 30.5 98.5 30.5 99.5 30.5 99.5 29.5 100.5 29.5 100.5 28.5 100.5 26.5 99.5 25.5 98.5 24.5 97.5 24.5 97.5 25.5 96.5 25.5 96.5 26.5 95.5 26.5M102.5 30.5 102.5 24.5 106.5 30.5 106.5 24.5M111.5 28.5 112.5 28.5 112.5 29.5 111.5 30.5 110.5 30.5 109.5 30.5 108.5 29.5 108.5 28.5 108.5 26.5 108.5 25.5 109.5 25.5 110.5 24.5 111.5 24.5 111.5 25.5 112.5 25.5 112.5 26.5M114.5 24.5 114.5 30.5M115.5 24.5 119.5 24.5M117.5 24.5 117.5 30.5M121.5 24.5 121.5 28.5 121.5 29.5 122.5 30.5 123.5 30.5 124.5 30.5 124.5 29.5 125.5 28.5 125.5 24.5M127.5 24.5 127.5 30.5 129.5 30.5 130.5 30.5 130.5 29.5 131.5 29.5 131.5 28.5 131.5 26.5 130.5 25.5 129.5 24.5 127.5 24.5M133.5 27.5 135.5 27.5M136.5 24.5 133.5 24.5 133.5 30.5 136.5 30.5M143.5 26.5 143.5 27.5 143.5 26.5M143.5 30.5 143.5 29.5 143.5 30.5M151.5 25.5 152.5 24.5 152.5 30.5M156.5 26.5 156.5 25.5 157.5 24.5 158.5 24.5 158.5 25.5 159.5 25.5 159.5 26.5 158.5 27.5 155.5 30.5 159.5 30.5M162.5 25.5 163.5 24.5 163.5 30.5M167.5 30.5 167.5 29.5 167.5 30.5M170.5 29.5 170.5 30.5 171.5 30.5 172.5 30.5 173.5 29.5 173.5 28.5 173.5 26.5 173.5 25.5 172.5 25.5 171.5 24.5 170.5 25.5 169.5 26.5 170.5 27.5 170.5 28.5 171.5 28.5 172.5 28.5 173.5 27.5 173.5 26.5M175.5 24.5 176.5 30.5 177.5 24.5 179.5 30.5 180.5 24.5M184.5 23.5 183.5 24.5 183.5 25.5 182.5 26.5 182.5 27.5 182.5 28.5 182.5 29.5 183.5 31.5 184.5 32.5M186.5 28.5 191.5 28.5M194.5 25.5 195.5 24.5 195.5 30.5M199.5 26.5 199.5 25.5 200.5 24.5 201.5 24.5 202.5 25.5 202.5 26.5 201.5 27.5 199.5 30.5 202.5 30.5M205.5 25.5 206.5 25.5 206.5 24.5 206.5 30.5M210.5 30.5 210.5 29.5 211.5 30.5 210.5 30.5M213.5 29.5 213.5 30.5 214.5 30.5 215.5 30.5 216.5 29.5 216.5 28.5 216.5 26.5 216.5 25.5 215.5 25.5 215.5 24.5 214.5 24.5 213.5 25.5 213.5 26.5 213.5 27.5 213.5 28.5 214.5 28.5 215.5 28.5 216.5 27.5 216.5 26.5M218.5 23.5 219.5 24.5 219.5 25.5 220.5 26.5 220.5 27.5 220.5 28.5 220.5 29.5 219.5 31.5 218.5 32.5
M91.5 34.5 91.5 40.5 94.5 40.5M95.5 40.5 97.5 34.5 99.5 40.5M96.5 38.5 99.5 38.5M100.5 34.5 104.5 34.5M102.5 34.5 102.5 40.5M105.5 34.5 105.5 40.5M107.5 34.5 111.5 34.5M109.5 34.5 109.5 40.5M112.5 34.5 112.5 38.5 112.5 39.5 113.5 39.5 114.5 40.5 115.5 39.5 116.5 39.5 116.5 38.5 116.5 34.5M118.5 34.5 118.5 40.5 120.5 40.5 121.5 39.5 122.5 39.5 122.5 38.5 122.5 36.5 122.5 35.5 121.5 34.5 120.5 34.5 118.5 34.5M124.5 37.5 126.5 37.5M128.5 34.5 124.5 34.5 124.5 40.5 128.5 40.5M134.5 36.5 135.5 36.5 134.5 36.5M134.5 39.5 135.5 39.5 134.5 40.5 134.5 39.5M141.5 39.5 142.5 39.5 142.5 40.5 143.5 40.5 144.5 39.5 145.5 39.5 145.5 38.5 145.5 37.5 144.5 36.5 143.5 36.5 145.5 34.5 142.5 34.5M147.5 38.5 147.5 36.5 147.5 35.5 148.5 34.5 149.5 34.5 150.5 34.5 150.5 35.5M147.5 38.5 147.5 37.5 148.5 36.5 149.5 36.5 150.5 36.5 150.5 37.5 151.5 38.5 150.5 39.5 149.5 40.5 148.5 39.5 147.5 39.5 147.5 38.5M152.5 39.5 153.5 39.5 153.5 40.5 152.5 39.5M155.5 38.5 155.5 39.5 156.5 39.5 156.5 40.5 158.5 40.5 158.5 39.5 159.5 39.5 159.5 38.5 159.5 37.5 158.5 37.5 157.5 36.5 156.5 36.5 155.5 35.5 156.5 34.5 158.5 34.5 159.5 35.5 158.5 36.5 157.5 36.5 156.5 37.5 155.5 37.5 155.5 38.5M161.5 40.5 161.5 34.5 165.5 40.5 165.5 34.5
M91.5 44.5 91.5 49.5 93.5 49.5 94.5 49.5 95.5 48.5 95.5 47.5 95.5 46.5 95.5 45.5 94.5 44.5 93.5 44.5 91.5 44.5M97.5 46.5 99.5 46.5M101.5 44.5 97.5 44.5 97.5 49.5 101.5 49.5M102.5 47.5 105.5 47.5 106.5 46.5 106.5 45.5 106.5 44.5 105.5 44.5 102.5 44.5 102.5 49.5M107.5 44.5 111.5 44.5M109.5 44.5 109.5 49.5M113.5 44.5 113.5 49.5M113.5 46.5 117.5 46.5M117.5 44.5 117.5 49.5M125.5 43.5 124.5 44.5 124.5 45.5 123.5 46.5 123.5 47.5 124.5 49.5 124.5 50.5 125.5 51.5M127.5 46.5 127.5 49.5M127.5 47.5 128.5 46.5 129.5 46.5 130.5 46.5 130.5 47.5 130.5 49.5M130.5 47.5 131.5 46.5 132.5 46.5 133.5 46.5 133.5 47.5 133.5 49.5M135.5 43.5 136.5 43.5 136.5 44.5 137.5 45.5 137.5 46.5 137.5 47.5 137.5 49.5 136.5 50.5 136.5 51.5 135.5 51.5M144.5 46.5 145.5 46.5 144.5 46.5M144.5 49.5 145.5 49.5 144.5 49.5M152.5 45.5 152.5 44.5 153.5 44.5 153.5 49.5
M90.5 53.5 92.5 56.5 92.5 59.5M92.5 56.5 95.5 53.5M96.5 56.5 98.5 56.5M100.5 53.5 96.5 53.5 96.5 59.5 100.5 59.5M101.5 59.5 103.5 53.5 105.5 59.5M101.5 57.5 104.5 57.5M106.5 56.5 109.5 56.5 110.5 56.5 110.5 55.5 110.5 54.5 109.5 53.5 106.5 53.5 106.5 59.5M108.5 56.5 110.5 59.5M117.5 55.5 117.5 56.5 117.5 55.5M117.5 59.5 117.5 58.5 117.5 59.5M124.5 55.5 124.5 54.5 125.5 54.5 125.5 53.5 126.5 53.5 127.5 54.5 128.5 54.5 128.5 55.5 127.5 55.5 127.5 56.5 124.5 59.5 128.5 59.5M129.5 56.5 129.5 57.5 130.5 58.5 130.5 59.5 131.5 59.5 132.5 59.5 133.5 59.5 133.5 58.5 133.5 57.5 133.5 56.5 133.5 54.5 132.5 53.5 131.5 53.5 130.5 54.5 129.5 56.5M136.5 54.5 137.5 53.5 137.5 59.5M142.5 54.5 143.5 53.5 143.5 59.5
M226.5 80.5 226.5 71.5 229.5 80.5 233.5 71.5 233.5 80.5M236.5 77.5 236.5 79.5 237.5 80.5 238.5 80.5 239.5 80.5 240.5 80.5 241.5 79.5 241.5 77.5 241.5 75.5 240.5 74.5 239.5 74.5 238.5 74.5 237.5 74.5 236.5 75.5 236.5 77.5M244.5 77.5 244.5 79.5 245.5 80.5 246.5 80.5 247.5 80.5 248.5 80.5 249.5 79.5 249.5 77.5 249.5 75.5 248.5 74.5 247.5 74.5 246.5 74.5 245.5 74.5 244.5 75.5 244.5 77.5M252.5 74.5 252.5 80.5M252.5 77.5 253.5 75.5 254.5 74.5 255.5 74.5 256.5 74.5M258.5 74.5 258.5 80.5M258.5 71.5 259.5 71.5 258.5 71.5M262.5 74.5 262.5 80.5M262.5 76.5 263.5 74.5 264.5 74.5 265.5 74.5 266.5 74.5 266.5 76.5 266.5 80.5M271.5 83.5 273.5 83.5 274.5 83.5 274.5 82.5 274.5 81.5 274.5 74.5M274.5 75.5 274.5 74.5 273.5 74.5 271.5 74.5 270.5 75.5 269.5 77.5 270.5 79.5 271.5 80.5 273.5 80.5 274.5 80.5 274.5 79.5M285.5 80.5 285.5 71.5 288.5 80.5 292.5 71.5 292.5 80.5M295.5 75.5 295.5 76.5 295.5 78.5 296.5 80.5 297.5 80.5 298.5 80.5 299.5 80.5 300.5 78.5 301.5 76.5 301.5 75.5 300.5 73.5 299.5 71.5 298.5 71.5 297.5 71.5 296.5 71.5 295.5 73.5 295.5 75.5M317.5 73.5 316.5 72.5 315.5 71.5 314.5 71.5 313.5 71.5 312.5 71.5 311.5 72.5 311.5 73.5 310.5 74.5 310.5 77.5 311.5 78.5 311.5 79.5 312.5 80.5 313.5 80.5 314.5 80.5 315.5 80.5 316.5 79.5 317.5 78.5M318.5 71.5 324.5 71.5M321.5 71.5 321.5 80.5M326.5 71.5 326.5 80.5 329.5 80.5 331.5 80.5 332.5 79.5 332.5 78.5 332.5 77.5 332.5 74.5 332.5 73.5 332.5 72.5 331.5 71.5 329.5 71.5 326.5 71.5M347.5 71.5 347.5 80.5M347.5 75.5 346.5 74.5 345.5 74.5 344.5 74.5 343.5 74.5 342.5 75.5 342.5 77.5 342.5 79.5 343.5 80.5 344.5 80.5 345.5 80.5 346.5 80.5 347.5 79.5M355.5 74.5 355.5 80.5M355.5 75.5 354.5 74.5 352.5 74.5 351.5 74.5 351.5 75.5 350.5 77.5 351.5 79.5 351.5 80.5 352.5 80.5 354.5 80.5 355.5 79.5M358.5 74.5 361.5 74.5M359.5 71.5 359.5 78.5 360.5 80.5 361.5 80.5M369.5 74.5 369.5 80.5M369.5 75.5 368.5 74.5 367.5 74.5 366.5 74.5 365.5 74.5 364.5 75.5 363.5 77.5 364.5 79.5 365.5 80.5 366.5 80.5 367.5 80.5 368.5 80.5 369.5 79.5M378.5 74.5 381.5 74.5M379.5 80.5 379.5 73.5 380.5 71.5 381.5 71.5M384.5 74.5 384.5 80.5M384.5 77.5 384.5 75.5 385.5 74.5 386.5 74.5 388.5 74.5M389.5 77.5 390.5 79.5 391.5 80.5 393.5 80.5 394.5 80.5 394.5 79.5 395.5 77.5 394.5 75.5 394.5 74.5 393.5 74.5 391.5 74.5 390.5 75.5 389.5 77.5M398.5 74.5 398.5 80.5M398.5 76.5 399.5 74.5 400.5 74.5 401.5 74.5 402.5 74.5 403.5 76.5 403.5 80.5M403.5 76.5 404.5 74.5 405.5 74.5 406.5 74.5 407.5 74.5 407.5 76.5 407.5 80.5M418.5 80.5 418.5 71.5 421.5 80.5 424.5 71.5 424.5 80.5M428.5 75.5 432.5 75.5 433.5 75.5 434.5 74.5 434.5 73.5 434.5 72.5 433.5 71.5 432.5 71.5 428.5 71.5 428.5 80.5 432.5 80.5 433.5 80.5 434.5 79.5 434.5 78.5 434.5 77.5 434.5 76.5 433.5 76.5 432.5 75.5M436.5 80.5 439.5 71.5 443.5 80.5M437.5 77.5 441.5 77.5M445.5 75.5 449.5 75.5 450.5 75.5 450.5 74.5 451.5 74.5 451.5 73.5 450.5 72.5 450.5 71.5 449.5 71.5 445.5 71.5 445.5 80.5M448.5 75.5 451.5 80.5M454.5 71.5 454.5 80.5M464.5 74.5 464.5 80.5M464.5 71.5 464.51 71.5M467.5 74.5 467.5 80.5M467.5 76.5 469.5 74.5 470.5 74.5 471.5 74.5 472.5 74.5 472.5 76.5 472.5 80.5M475.5 79.5 476.5 80.5 477.5 80.5 478.5 80.5 480.5 80.5 480.5 79.5 480.5 78.5 480.5 77.5 479.5 77.5 477.5 77.5 476.5 76.5 475.5 75.5 476.5 74.5 477.5 74.5 478.5 74.5 480.5 74.5 480.5 75.5M482.5 74.5 485.5 74.5M483.5 71.5 483.5 78.5 484.5 80.5 485.5 80.5 486.5 80.5M488.5 74.5 488.5 80.5M488.5 77.5 489.5 75.5 489.5 74.5 490.5 74.5 492.5 74.5M494.5 74.5 494.5 78.5 494.5 80.5 495.5 80.5 496.5 80.5 497.5 80.5 498.5 78.5M498.5 74.5 498.5 80.5M502.5 74.5 502.5 80.5M502.5 76.5 503.5 74.5 504.5 74.5 505.5 74.5 506.5 74.5 507.5 76.5 507.5 80.5M507.5 76.5 508.5 74.5 509.5 74.5 510.5 74.5 511.5 74.5 511.5 76.5 511.5 80.5M514.5 77.5 515.5 79.5 516.5 80.5 517.5 80.5 518.5 80.5 519.5 80.5 520.5 79.5M514.5 77.5 515.5 75.5 516.5 74.5 517.5 74.5 518.5 74.5 519.5 74.5 519.5 75.5 520.5 76.5 520.5 77.5 514.5 77.5M523.5 74.5 523.5 80.5M523.5 76.5 524.5 74.5 525.5 74.5 526.5 74.5 527.5 74.5 527.5 76.5 527.5 80.5M530.5 74.5 533.5 74.5M531.5 71.5 531.5 78.5 532.5 80.5 533.5 80.5M543.5 74.5 543.5 80.5M542.5 71.5 543.5 71.5 542.5 71.5M551.5 71.5 551.5 80.5M551.5 75.5 550.5 74.5 549.5 74.5 548.5 74.5 547.5 74.5 546.5 75.5 546.5 77.5 546.5 79.5 547.5 80.5 548.5 80.5 549.5 80.5 550.5 80.5 551.5 79.5M562.5 73.5 563.5 72.5 564.5 71.5 564.5 80.5M569.5 78.5 570.5 79.5 570.5 80.5 572.5 80.5 573.5 80.5 574.5 80.5 575.5 79.5 575.5 77.5 575.5 75.5 574.5 74.5 572.5 74.5 575.5 71.5 570.5 71.5M578.5 78.5 578.5 79.5 579.5 80.5 580.5 80.5 581.5 80.5 583.5 80.5 584.5 79.5 584.5 77.5 584.5 75.5 583.5 75.5 582.5 74.5 581.5 74.5 584.5 71.5 579.5 71.5M587.5 71.5 593.5 71.5 588.5 80.5M607.5 74.5 607.5 80.5M607.5 75.5 606.5 74.5 604.5 74.5 603.5 74.5 603.5 75.5 602.5 77.5 603.5 79.5 603.5 80.5 604.5 80.5 606.5 80.5 607.5 79.5M610.5 74.5 613.5 74.5M611.5 71.5 611.5 78.5 612.5 80.5 613.5 80.5M622.5 77.5 623.5 79.5 624.5 80.5 626.5 80.5 627.5 80.5 627.5 79.5 628.5 77.5 627.5 75.5 627.5 74.5 626.5 74.5 624.5 74.5 623.5 75.5 622.5 77.5M631.5 74.5 631.5 80.5M631.5 77.5 631.5 75.5 632.5 74.5 633.5 74.5 634.5 74.5M636.5 74.5 636.5 80.5M636.5 71.5 637.5 71.5 636.5 71.5M641.5 83.5 642.5 83.5 643.5 83.5 644.5 83.5 644.5 82.5 645.5 81.5 645.5 74.5M645.5 75.5 644.5 74.5 643.5 74.5 642.5 74.5 641.5 74.5 640.5 75.5 639.5 77.5 640.5 79.5 641.5 80.5 642.5 80.5 643.5 80.5 644.5 80.5 645.5 79.5M648.5 74.5 648.5 80.5M648.5 71.5 649.5 71.5 648.5 71.5M652.5 74.5 652.5 80.5M652.5 76.5 653.5 74.5 654.5 74.5 655.5 74.5 656.5 74.5 656.5 76.5 656.5 80.5M664.5 74.5 664.5 80.5M664.5 75.5 664.5 74.5 663.5 74.5 661.5 74.5 660.5 75.5 659.5 77.5 660.5 79.5 661.5 80.5 663.5 80.5 664.5 80.5 664.5 79.5M668.5 71.5 668.5 80.5M678.5 79.5 678.5 80.5 679.5 80.5 681.5 80.5 682.5 80.5 682.5 79.5 682.5 78.5 682.5 77.5 681.5 77.5 679.5 77.5 678.5 76.5 678.5 75.5 678.5 74.5 679.5 74.5 681.5 74.5 682.5 74.5 682.5 75.5M690.5 74.5 690.5 80.5M690.5 75.5 689.5 74.5 687.5 74.5 686.5 74.5 685.5 75.5 685.5 77.5 685.5 79.5 686.5 80.5 687.5 80.5 689.5 80.5 690.5 79.5M694.5 74.5 694.5 80.5M694.5 76.5 695.5 74.5 696.5 74.5 697.5 74.5 698.5 74.5 698.5 76.5 698.5 80.5M698.5 76.5 700.5 74.5 701.5 74.5 702.5 74.5 703.5 74.5 703.5 76.5 703.5 80.5M707.5 74.5 707.5 83.5M707.5 75.5 707.5 74.5 708.5 74.5 710.5 74.5 711.5 75.5 712.5 77.5 711.5 79.5 710.5 80.5 708.5 80.5 707.5 80.5 707.5 79.5M715.5 71.5 715.5 80.5M718.5 74.5 718.5 80.5M718.5 71.5 719.5 71.5 718.5 71.5M722.5 74.5 722.5 80.5M722.5 76.5 723.5 74.5 724.5 74.5 725.5 74.5 726.5 74.5 726.5 76.5 726.5 80.5M731.5 83.5 732.5 83.5 733.5 83.5 734.5 83.5 734.5 82.5 735.5 81.5 735.5 74.5M735.5 75.5 734.5 74.5 733.5 74.5 732.5 74.5 731.5 74.5 730.5 75.5 729.5 77.5 730.5 79.5 731.5 80.5 732.5 80.5 733.5 80.5 734.5 80.5 735.5 79.5M745.5 74.5 745.5 80.5M744.5 71.5 745.5 71.5 744.5 71.5M748.5 74.5 748.5 80.5M748.5 76.5 750.5 74.5 752.5 74.5 753.5 74.5 753.5 76.5 753.5 80.5M756.5 74.5 759.5 74.5M757.5 71.5 757.5 78.5 757.5 80.5 758.5 80.5 759.5 80.5M761.5 77.5 762.5 79.5 762.5 80.5 763.5 80.5 765.5 80.5 766.5 79.5M761.5 77.5 762.5 75.5 762.5 74.5 763.5 74.5 765.5 74.5 766.5 75.5 766.5 76.5 766.5 77.5 761.5 77.5M769.5 74.5 769.5 80.5M769.5 77.5 770.5 75.5 771.5 74.5 773.5 74.5M774.5 74.5 777.5 80.5 779.5 74.5M787.5 74.5 787.5 80.5M787.5 75.5 786.5 74.5 785.5 74.5 784.5 74.5 783.5 74.5 782.5 75.5 781.5 77.5 782.5 79.5 783.5 80.5 784.5 80.5 785.5 80.5 786.5 80.5 787.5 79.5M790.5 71.5 790.5 80.5M793.5 79.5 793.5 80.5 795.5 80.5 796.5 80.5 797.5 80.5 798.5 79.5 798.5 78.5 797.5 77.5 796.5 77.5 794.5 77.5 793.5 76.5 793.5 75.5 793.5 74.5 795.5 74.5 796.5 74.5 797.5 74.5 798.5 75.5
M23.5 265.5 33.5 265.5M28.5 265.5 27.5 266.5 27.5 268.5 27.5 269.5 28.5 269.5 29.5 270.5 30.5 270.5 32.5 269.5 33.5 269.5 33.5 268.5 33.5 266.5 32.5 265.5M29.5 262.5 30.5 262.5 32.5 261.5 33.5 261.5 33.5 260.5 33.5 258.5 32.5 257.5M29.5 262.5 28.5 261.5 27.5 261.5 27.5 260.5 27.5 258.5 27.5 257.5 28.5 257.5 29.5 257.5 29.5 262.5M36.5 253.5 36.5 252.5 36.5 251.5 36.5 250.5 35.5 250.5 34.5 249.5 27.5 249.5M28.5 249.5 27.5 250.5 27.5 251.5 27.5 252.5 27.5 253.5 28.5 254.5 29.5 254.5 30.5 254.5 32.5 254.5 33.5 253.5 33.5 252.5 33.5 251.5 33.5 250.5 32.5 249.5M26.5 233.5 25.5 234.5 24.5 234.5 23.5 235.5 23.5 237.5 24.5 238.5 25.5 239.5 26.5 239.5 27.5 240.5 29.5 240.5 31.5 239.5 32.5 239.5 33.5 238.5 33.5 237.5 33.5 235.5 33.5 234.5 32.5 234.5 31.5 233.5
M343.5 460.5 348.5 460.5M345.5 460.5 348.5 475.5 351.5 460.5 354.5 475.5 357.5 460.5M346.5 460.5 348.5 471.5M352.5 460.5 354.5 471.5M354.5 460.5 359.5 460.5M363.5 466.5 363.5 467.5 362.5 467.5 362.5 466.5 363.5 466.5 365.5 465.5 367.5 465.5 369.5 466.5 370.5 466.5 370.5 473.5 368.5 474.5 367.5 475.5 365.5 475.5 362.5 474.5 362.5 473.5 362.5 471.5 362.5 470.5 365.5 469.5 363.5 470.5 362.5 471.5 362.5 473.5 363.5 474.5 365.5 475.5M365.5 469.5 369.5 469.5 370.5 468.5M370.5 466.5 370.5 468.5 370.5 473.5 371.5 474.5 372.5 475.5M370.5 473.5 370.5 474.5 372.5 475.5M375.5 465.5 381.5 465.5M377.5 460.5 377.5 472.5 378.5 474.5 380.5 475.5 379.5 474.5 378.5 472.5 378.5 460.5M380.5 475.5 381.5 475.5 382.5 474.5 383.5 473.5M387.5 469.5 387.5 471.5 388.5 473.5 390.5 474.5 391.5 475.5 389.5 474.5 387.5 473.5 387.5 471.5 387.5 469.5 387.5 467.5 389.5 466.5 391.5 465.5 390.5 466.5 388.5 467.5 387.5 469.5 396.5 469.5 396.5 468.5 395.5 466.5 393.5 465.5 391.5 465.5M391.5 475.5 393.5 475.5 395.5 474.5 396.5 473.5M395.5 466.5 395.5 467.5 395.5 469.5M400.5 465.5 403.5 465.5 403.5 475.5M400.5 475.5 405.5 475.5M402.5 465.5 402.5 475.5M403.5 469.5 403.5 467.5 405.5 466.5 406.5 465.5 408.5 465.5 409.5 466.5 408.5 467.5 408.5 466.5M424.5 460.5 423.5 464.5 423.5 460.5 434.5 460.5 434.5 464.5 433.5 460.5M426.5 475.5 431.5 475.5M428.5 460.5 428.5 475.5M429.5 460.5 429.5 475.5M438.5 469.5 438.5 471.5 439.5 473.5 441.5 474.5 442.5 475.5 440.5 474.5 438.5 473.5 438.5 471.5 438.5 469.5 438.5 467.5 440.5 466.5 442.5 465.5 441.5 466.5 439.5 467.5 438.5 469.5 447.5 469.5 447.5 468.5 446.5 466.5 444.5 465.5 442.5 465.5M442.5 475.5 443.5 475.5 446.5 474.5 447.5 473.5M446.5 466.5 446.5 467.5 446.5 469.5M451.5 465.5 453.5 465.5 453.5 475.5M451.5 475.5 456.5 475.5M453.5 465.5 453.5 475.5M453.5 467.5 455.5 466.5 457.5 465.5 459.5 465.5 460.5 466.5 461.5 467.5 461.5 475.5M459.5 465.5 461.5 466.5 461.5 467.5 461.5 475.5M459.5 475.5 464.5 475.5M461.5 467.5 463.5 466.5 465.5 465.5 466.5 465.5 468.5 466.5 469.5 467.5 469.5 475.5M466.5 465.5 469.5 466.5 469.5 467.5 469.5 475.5M466.5 475.5 471.5 475.5M474.5 465.5 477.5 465.5 477.5 480.5M474.5 480.5 479.5 480.5M476.5 465.5 476.5 480.5M477.5 467.5 479.5 466.5 480.5 465.5 481.5 465.5 483.5 466.5 484.5 467.5 485.5 469.5 485.5 471.5 484.5 473.5 483.5 474.5 481.5 475.5 480.5 475.5 479.5 474.5 477.5 473.5M481.5 465.5 484.5 466.5 485.5 467.5 486.5 469.5 486.5 471.5 485.5 473.5 484.5 474.5 481.5 475.5M491.5 469.5 491.5 471.5 491.5 473.5 493.5 474.5 494.5 475.5 492.5 474.5 491.5 473.5 490.5 471.5 490.5 469.5 491.5 467.5 492.5 466.5 494.5 465.5 493.5 466.5 491.5 467.5 491.5 469.5 499.5 469.5 499.5 468.5 499.5 466.5 498.5 466.5 497.5 465.5 494.5 465.5M494.5 475.5 496.5 475.5 498.5 474.5 499.5 473.5M498.5 466.5 499.5 467.5 499.5 469.5M503.5 465.5 506.5 465.5 506.5 475.5M503.5 475.5 508.5 475.5M505.5 465.5 505.5 475.5M506.5 469.5 507.5 467.5 508.5 466.5 509.5 465.5 512.5 465.5 512.5 466.5 512.5 467.5 511.5 466.5 512.5 466.5M517.5 466.5 517.5 467.5 517.5 466.5 519.5 465.5 522.5 465.5 523.5 466.5 524.5 466.5 524.5 473.5 522.5 474.5 521.5 475.5 519.5 475.5 517.5 474.5 516.5 473.5 516.5 471.5 517.5 470.5 519.5 469.5 517.5 470.5 517.5 471.5 517.5 473.5 517.5 474.5 519.5 475.5M519.5 469.5 523.5 469.5 524.5 468.5M524.5 466.5 524.5 468.5 524.5 473.5 525.5 474.5 526.5 475.5 527.5 475.5M524.5 473.5 524.5 474.5 526.5 475.5M530.5 465.5 535.5 465.5M532.5 460.5 532.5 472.5 532.5 474.5 534.5 475.5 533.5 474.5 532.5 472.5 532.5 460.5M534.5 475.5 535.5 475.5 537.5 474.5 537.5 473.5M540.5 465.5 543.5 465.5 543.5 473.5 544.5 474.5 545.5 475.5 543.5 474.5 542.5 473.5 542.5 465.5M545.5 475.5 547.5 475.5 549.5 474.5 550.5 473.5M548.5 465.5 551.5 465.5 551.5 475.5M550.5 465.5 550.5 475.5 553.5 475.5M556.5 465.5 559.5 465.5 559.5 475.5M556.5 475.5 561.5 475.5M558.5 465.5 558.5 475.5M559.5 469.5 560.5 467.5 561.5 466.5 563.5 465.5 565.5 465.5 565.5 466.5 565.5 467.5 564.5 466.5 565.5 466.5M570.5 469.5 570.5 471.5 570.5 473.5 572.5 474.5 573.5 475.5 571.5 474.5 570.5 473.5 569.5 471.5 569.5 469.5 570.5 467.5 571.5 466.5 573.5 465.5 572.5 466.5 570.5 467.5 570.5 469.5 578.5 469.5 578.5 468.5 578.5 466.5 577.5 466.5 575.5 465.5 573.5 465.5M573.5 475.5 575.5 475.5 577.5 474.5 578.5 473.5M577.5 466.5 578.5 467.5 578.5 469.5M598.5 459.5 597.5 461.5 596.5 464.5 595.5 467.5 595.5 470.5 596.5 474.5 597.5 476.5 598.5 479.5 597.5 476.5 596.5 474.5 596.5 470.5 596.5 467.5 596.5 464.5 597.5 461.5 598.5 459.5 600.5 457.5M598.5 479.5 600.5 480.5M608.5 465.5 606.5 466.5 605.5 467.5 604.5 469.5 604.5 471.5 605.5 473.5 606.5 474.5 608.5 475.5 607.5 474.5 606.5 473.5 605.5 471.5 605.5 469.5 606.5 467.5 607.5 466.5 608.5 465.5 610.5 465.5 611.5 466.5 613.5 467.5M608.5 475.5 610.5 475.5 611.5 474.5 613.5 473.5M611.5 460.5 613.5 460.5 613.5 475.5M613.5 460.5 613.5 475.5 616.5 475.5M620.5 469.5 620.5 471.5 621.5 473.5 622.5 474.5 623.5 475.5 621.5 474.5 620.5 473.5 619.5 471.5 619.5 469.5 620.5 467.5 621.5 466.5 623.5 465.5 622.5 466.5 621.5 467.5 620.5 469.5 629.5 469.5 629.5 468.5 628.5 466.5 627.5 466.5 626.5 465.5 623.5 465.5M623.5 475.5 625.5 475.5 627.5 474.5 629.5 473.5M627.5 466.5 628.5 467.5 628.5 469.5M633.5 474.5 633.5 473.5 634.5 471.5 634.5 469.5 634.5 468.5 634.5 466.5 635.5 466.5 634.5 467.5 634.5 470.5 635.5 471.5 634.5 471.5M633.5 474.5 634.5 474.5 636.5 475.5 639.5 475.5 641.5 476.5 642.5 477.5 641.5 476.5 639.5 476.5 636.5 476.5 634.5 475.5 633.5 474.5M635.5 466.5 636.5 465.5 638.5 465.5 639.5 466.5 640.5 466.5 641.5 466.5 642.5 466.5 642.5 465.5 641.5 466.5M635.5 471.5 636.5 472.5 638.5 472.5 639.5 471.5 640.5 470.5 640.5 467.5 639.5 466.5M635.5 475.5 633.5 476.5 632.5 477.5 632.5 478.5 633.5 479.5 635.5 480.5 639.5 480.5 641.5 479.5 642.5 478.5 642.5 477.5M639.5 471.5 640.5 471.5 641.5 469.5 641.5 468.5 640.5 466.5M663.5 460.5 661.5 461.5 659.5 462.5 659.5 464.5 658.5 466.5 658.5 469.5 659.5 471.5 659.5 473.5 661.5 474.5 663.5 475.5 661.5 474.5 660.5 473.5 659.5 471.5 659.5 469.5 659.5 466.5 659.5 464.5 660.5 462.5 661.5 461.5 663.5 460.5 664.5 460.5 667.5 461.5 668.5 462.5 669.5 460.5 669.5 464.5 668.5 462.5M663.5 475.5 664.5 475.5 667.5 474.5 668.5 473.5 669.5 471.5M673.5 457.5 674.5 459.5 676.5 461.5 677.5 464.5 677.5 467.5 677.5 470.5 677.5 474.5 676.5 476.5 674.5 479.5 673.5 480.5M674.5 459.5 676.5 461.5 677.5 464.5 678.5 467.5 678.5 470.5 677.5 474.5 676.5 476.5 674.5 479.5
M90.5 339.5 91.5 338.5 92.5 341.5 93.5 345.5 94.5 342.5 94.5 345.5 95.5 342.5 96.5 339.5 97.5 342.5 98.5 338.5 98.5 333.5 99.5 342.5 100.5 338.5 101.5 345.5 102.5 350.5 103.5 344.5 104.5 342.5 104.5 309.5 105.5 327.5 106.5 307.5 106.5 320.5 107.5 332.5 108.5 334.5 109.5 338.5 109.5 331.5 110.5 329.5 110.5 334.5 111.5 335.5 113.5 335.5 114.5 334.5 114.5 339.5 115.5 332.5 117.5 325.5 118.5 322.5 119.5 317.5 120.5 311.5 120.5 308.5 121.5 308.5 123.5 305.5 125.5 301.5 127.5 299.5 128.5 294.5 129.5 297.5 130.5 302.5 131.5 312.5 132.5 315.5 133.5 312.5 135.5 316.5 136.5 317.5 138.5 321.5 139.5 330.5 141.5 341.5 142.5 337.5 144.5 336.5 144.5 327.5 146.5 325.5 148.5 326.5 149.5 323.5 150.5 326.5 152.5 327.5 153.5 330.5 156.5 335.5 157.5 330.5 158.5 329.5 160.5 335.5 161.5 336.5 162.5 334.5 163.5 337.5 163.5 328.5 164.5 325.5 166.5 321.5 168.5 317.5 170.5 316.5 171.5 319.5 173.5 324.5 174.5 326.5 175.5 323.5 177.5 326.5 178.5 328.5 179.5 322.5 181.5 321.5 184.5 321.5 185.5 326.5 187.5 329.5 188.5 331.5 191.5 336.5 193.5 344.5 194.5 346.5 197.5 349.5 198.5 358.5 200.5 360.5 201.5 364.5 203.5 371.5 205.5 362.5 206.5 366.5 207.5 361.5 208.5 362.5 210.5 365.5 211.5 359.5 212.5 361.5 213.5 356.5 215.5 359.5 216.5 356.5 217.5 356.5 218.5 351.5 219.5 346.5 222.5 346.5 223.5 339.5 223.5 321.5 224.5 316.5 225.5 319.5 227.5 307.5 228.5 296.5 228.5 307.5 230.5 292.5 232.5 275.5 233.5 271.5 235.5 266.5 236.5 273.5 237.5 254.5 238.5 261.5 239.5 265.5 241.5 263.5 242.5 255.5 244.5 256.5 244.5 281.5 245.5 306.5 246.5 286.5 246.5 271.5 248.5 261.5 249.5 257.5 250.5 252.5 252.5 251.5 253.5 254.5 254.5 249.5 255.5 256.5 256.5 266.5 257.5 274.5 258.5 266.5 259.5 273.5 261.5 276.5 262.5 277.5 262.5 309.5 263.5 330.5 264.5 324.5 265.5 309.5 266.5 305.5 268.5 301.5 269.5 301.5 269.5 317.5 270.5 330.5 271.5 317.5 272.5 309.5 273.5 311.5 274.5 319.5 275.5 314.5 277.5 312.5 278.5 312.5 280.5 314.5 281.5 317.5 283.5 318.5 284.5 321.5 285.5 318.5 287.5 319.5 288.5 316.5 290.5 315.5 291.5 318.5 293.5 324.5 295.5 326.5 297.5 326.5 299.5 329.5 301.5 335.5 304.5 340.5 306.5 338.5 307.5 334.5 309.5 333.5 311.5 334.5 313.5 333.5 315.5 335.5 316.5 340.5 317.5 333.5 319.5 338.5 320.5 334.5 322.5 333.5 324.5 333.5 325.5 337.5 326.5 349.5 327.5 358.5 329.5 354.5 331.5 349.5 334.5 345.5 336.5 343.5 337.5 338.5 338.5 329.5 339.5 320.5 341.5 313.5 342.5 305.5 344.5 297.5 345.5 299.5 346.5 306.5 347.5 300.5 348.5 295.5 349.5 299.5 350.5 289.5 351.5 283.5 351.5 299.5 353.5 301.5 354.5 304.5 356.5 309.5 356.5 307.5 357.5 314.5 358.5 302.5 359.5 300.5 361.5 301.5 361.5 314.5 363.5 315.5 364.5 324.5 364.5 332.5 365.5 316.5 366.5 311.5 368.5 317.5 369.5 319.5 370.5 309.5 371.5 316.5 372.5 327.5 374.5 339.5 375.5 350.5 376.5 361.5 378.5 354.5 379.5 345.5 381.5 335.5 382.5 325.5 384.5 319.5 385.5 314.5 387.5 305.5 389.5 299.5 391.5 294.5 394.5 292.5 396.5 291.5 397.5 289.5 399.5 291.5 400.5 294.5 402.5 299.5 404.5 301.5 405.5 303.5 406.5 300.5 409.5 299.5 410.5 302.5 411.5 299.5 413.5 298.5 415.5 301.5 416.5 296.5 418.5 296.5 420.5 297.5 421.5 302.5 424.5 303.5 424.5 303.5 425.5 302.5 427.5 295.5 429.5 294.5 430.5 294.5 432.5 298.5 433.5 299.5 435.5 301.5 436.5 311.5 437.5 303.5 437.5 321.5 438.5 340.5 439.5 326.5 439.5 316.5 440.5 309.5 442.5 306.5 443.5 307.5 444.5 311.5 446.5 318.5 447.5 316.5 449.5 313.5 450.5 318.5 451.5 312.5 452.5 311.5 453.5 322.5 454.5 310.5 454.5 298.5 455.5 289.5 456.5 285.5 457.5 293.5 458.5 301.5 459.5 304.5 460.5 303.5 461.5 302.5 462.5 308.5 463.5 317.5 464.5 311.5 464.5 288.5 465.5 271.5 465.5 265.5 465.5 254.5 466.5 251.5 467.5 249.5 468.5 242.5 469.5 233.5 470.5 254.5 470.5 232.5 471.5 234.5 472.5 242.5 473.5 253.5 474.5 248.5 475.5 245.5 475.5 232.5 476.5 223.5 477.5 232.5 478.5 230.5 480.5 228.5 480.5 220.5 481.5 212.5 482.5 218.5 483.5 207.5 484.5 212.5 484.5 199.5 485.5 210.5 486.5 207.5 487.5 213.5 487.5 212.5 488.5 222.5 489.5 208.5 490.5 202.5 491.5 215.5 492.5 211.5 493.5 209.5 495.5 210.5 496.5 212.5 497.5 217.5 499.5 221.5 500.5 229.5 501.5 230.5 502.5 229.5 504.5 223.5 505.5 217.5 507.5 215.5 508.5 217.5 509.5 226.5 510.5 230.5 512.5 232.5 514.5 232.5 516.5 233.5 518.5 236.5 520.5 238.5 522.5 241.5 523.5 243.5 524.5 241.5 526.5 240.5 528.5 238.5 530.5 233.5 532.5 230.5 534.5 227.5 537.5 223.5 538.5 222.5 541.5 220.5 542.5 223.5 543.5 230.5 544.5 240.5 545.5 246.5 547.5 249.5 548.5 255.5 549.5 262.5 550.5 254.5 551.5 267.5 552.5 272.5 553.5 262.5 553.5 255.5 555.5 250.5 556.5 243.5 557.5 236.5 558.5 234.5 558.5 240.5 559.5 244.5 560.5 234.5 562.5 233.5 564.5 232.5 565.5 235.5 566.5 237.5 567.5 232.5 569.5 231.5 570.5 234.5 572.5 235.5 573.5 233.5 575.5 232.5 577.5 231.5 578.5 225.5 579.5 221.5 580.5 217.5 581.5 219.5 582.5 223.5 582.5 217.5 583.5 207.5 584.5 219.5 585.5 216.5 586.5 212.5 587.5 207.5 588.5 203.5 589.5 192.5 588.5 189.5 589.5 180.5 590.5 178.5 591.5 174.5 592.5 172.5 593.5 178.5 593.5 201.5 593.5 170.5 594.5 155.5 594.5 143.5 596.5 135.5 597.5 127.5 598.5 134.5 599.5 140.5 599.5 146.5 600.5 145.5 601.5 149.5 602.5 158.5 603.5 168.5 604.5 181.5 605.5 191.5 606.5 201.5 607.5 205.5 608.5 219.5 609.5 232.5 610.5 229.5 612.5 230.5 615.5 232.5 617.5 236.5 618.5 231.5 620.5 229.5 620.5 226.5 622.5 222.5 623.5 214.5 625.5 212.5 627.5 211.5 629.5 209.5 631.5 208.5 633.5 209.5 634.5 207.5 636.5 201.5 637.5 199.5 639.5 200.5 642.5 199.5 644.5 200.5 647.5 204.5 649.5 205.5 652.5 206.5 654.5 213.5 655.5 209.5 656.5 217.5 657.5 277.5 657.5 242.5 658.5 222.5 659.5 215.5 661.5 210.5 662.5 213.5 663.5 221.5 664.5 227.5 666.5 237.5 668.5 240.5 669.5 253.5 670.5 262.5 670.5 272.5 671.5 276.5 672.5 273.5 672.5 266.5 673.5 258.5 674.5 264.5 675.5 269.5 676.5 273.5 677.5 275.5 677.5 279.5 679.5 280.5 680.5 282.5 681.5 286.5 682.5 282.5 683.5 281.5 684.5 281.5 685.5 282.5 687.5 281.5 687.5 274.5 688.5 272.5 689.5 268.5 691.5 263.5 692.5 258.5 693.5 258.5 694.5 260.5 694.5 247.5 695.5 234.5 696.5 251.5 696.5 235.5 697.5 232.5 697.5 216.5 698.5 221.5 699.5 211.5 700.5 203.5 701.5 200.5 702.5 204.5 702.5 190.5 703.5 192.5 704.5 197.5 704.5 196.5 705.5 197.5 706.5 200.5 707.5 192.5 708.5 189.5 708.5 190.5 709.5 195.5 710.5 197.5 711.5 201.5 712.5 196.5 713.5 193.5 714.5 183.5 714.5 173.5 715.5 172.5 716.5 176.5 716.5 173.5 717.5 165.5 718.5 171.5 718.5 167.5 719.5 176.5 719.5 182.5 720.5 172.5 720.5 171.5 721.5 184.5 722.5 172.5 722.5 176.5 723.5 171.5 724.5 175.5 724.5 184.5 725.5 192.5 725.5 183.5 726.5 175.5 727.5 173.5 728.5 172.5 729.5 170.5 730.5 173.5 730.5 175.5 731.5 177.5 732.5 173.5 733.5 171.5 734.5 170.5 735.5 172.5 735.5 178.5 737.5 179.5 739.5 178.5 740.5 176.5 741.5 178.5 742.5 175.5 744.5 175.5 745.5 177.5 746.5 178.5 747.5 182.5 748.5 178.5 749.5 179.5 750.5 181.5 752.5 180.5 753.5 180.5 754.5 181.5 755.5 178.5 756.5 173.5 757.5 176.5 758.5 177.5 759.5 178.5 760.5 178.5 762.5 179.5 762.5 185.5 763.5 191.5 764.5 190.5 765.5 191.5 767.5 191.5 768.5 190.5 770.5 187.5 772.5 185.5 773.5 184.5 774.5 185.5 775.5 186.5 777.5 189.5 778.5 192.5 780.5 192.5 781.5 189.5 782.5 187.5 783.5 190.5 784.5 195.5 785.5 198.5 787.5 199.5 789.5 198.5 790.5 197.5 791.5 195.5 791.5 200.5 792.5 205.5 794.5 209.5 795.5 211.5 796.5 213.5 797.5 210.5 799.5 209.5 800.5 208.5 802.5 210.5 803.5 210.5 804.5 211.5 805.5 210.5 806.5 204.5 807.5 201.5 809.5 199.5 810.5 198.5 811.5 196.5 812.5 188.5 813.5 185.5 813.5 180.5 814.5 176.5 815.5 185.5 815.5 178.5 816.5 173.5 817.5 170.5 818.5 169.5 818.5 172.5 819.5 166.5 820.5 166.5 820.5 181.5 820.5 167.5 821.5 152.5 821.5 156.5 824.5 181.5 824.5 161.5 825.5 160.5 825.5 128.5 826.5 118.5 827.5 110.5 827.5 117.5 828.5 119.5 829.5 126.5 830.5 120.5 830.5 127.5 832.5 132.5 833.5 135.5 834.5 132.5 835.5 131.5 836.5 140.5 837.5 130.5 837.5 128.5 839.5 127.5 840.5 125.5 841.5 127.5 842.5 124.5 843.5 119.5 844.5 118.5 845.5 118.5 846.5 122.5 847.5 126.5 848.5 126.5 848.5 136.5 849.5 144.5 850.5 135.5 850.5 124.5 851.5 119.5 852.5 116.5 853.5 119.5 854.5 124.5 855.5 130.5 856.5 134.5 857.5 139.5 858.5 137.5 859.5 137.5 860.5 139.5 862.5 143.5 863.5 147.5 864.5 153.5 865.5 158.5 865.5 166.5 865.5 166.5 866.5 170.5 867.5 173.5 868.5 178.5 870.5 181.5 871.5 183.5 872.5 181.5 873.5 180.5 875.5 180.5 875.5 191.5 876.5 195.5 876.5 193.5 878.5 193.5 879.5 194.5 880.5 197.5 880.5 199.5 881.5 198.5 883.5 199.5 884.5 198.5 885.5 199.5 886.5 199.5 888.5 200.5 889.5 200.5 890.5 203.5 891.5 200.5 893.5 196.5 894.5 193.5 896.5 193.5 897.5 194.5 898.5 195.5 900.5 196.5 901.5 198.5 903.5 200.5 904.5 203.5 905.5 208.5 905.5 212.5 906.5 207.5 907.5 202.5 907.5 198.5 909.5 197.5 911.5 196.5 913.5 197.5 915.5 196.5 917.5 196.5 918.5 195.5 920.5 196.5 921.5 197.5 922.5 199.5 923.5 198.5 924.5 195.5 925.5 193.5 926.5 192.5 927.5 193.5 928.5 194.5 929.5 193.5 929.5 192.5"/>
</svg>
</body></html>
